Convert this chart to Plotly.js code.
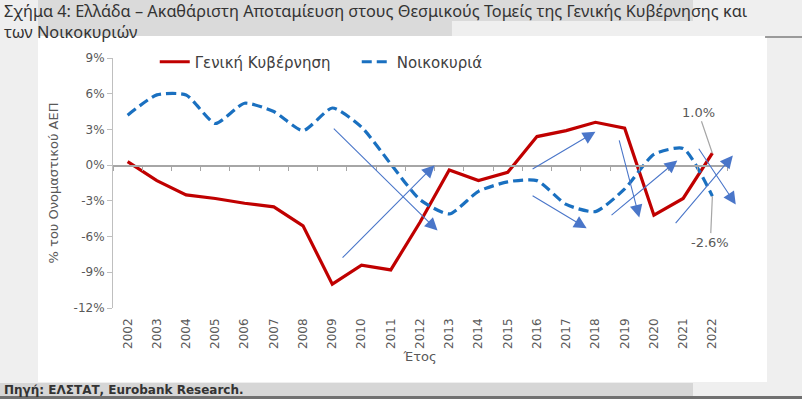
<!DOCTYPE html>
<html><head><meta charset="utf-8">
<script src="https://cdn.plot.ly/plotly-3.0.1.min.js"></script>
<style>html,body{margin:0;padding:0;background:#efefef;overflow:hidden}#chart{width:802px;height:399px}</style>
</head><body><div id="chart"></div>
<script>
// ---- data ----
const years = ['2002','2003','2004','2005','2006','2007','2008','2009','2010','2011','2012','2013','2014','2015','2016','2017','2018','2019','2020','2021','2022'];
const govSaving = [0.3,-1.3,-2.5,-2.8,-3.2,-3.5,-5.1,-10.0,-8.4,-8.8,-4.8,-0.4,-1.3,-0.6,2.4,2.9,3.6,3.1,-4.2,-2.8,1.0];
const hhSaving = [4.2,5.9,5.9,3.5,5.2,4.5,2.9,4.8,3.2,0.1,-2.9,-4.1,-2.2,-1.4,-1.3,-3.3,-3.9,-2.0,0.9,1.4,-2.6];
const seriesNames = ['Γενική Κυβέρνηση','Νοικοκυριά'];
const yTickVals = [-12,-9,-6,-3,0,3,6,9];
const yTickText = ['-12%','-9%','-6%','-3%','0%','3%','6%','9%'];
const yMin = -12, yMax = 9;
// trend arrows (year index / value): tail -> head
const arrowTailX = [7.0, 7.3, 13.8, 13.8, 16.8, 16.5, 18.7, 19.5];
const arrowTailY = [3.2, -7.9, -0.4, -2.5, 2.2, -4.3, -5.0, 1.5];
const arrowHeadX = [10.6, 10.5, 16.0, 15.7, 17.5, 18.8, 20.7, 20.8];
const arrowHeadY = [-5.5, 0.0, 2.8, -5.3, -4.4, 0.4, 0.8, -3.3];
const titleLines = ['Σχήμα 4: Ελλάδα – Ακαθάριστη Αποταμίευση στους Θεσμικούς Τομείς της Γενικής Κυβέρνησης και', 'των Νοικοκυριών'];
const sourceText = 'Πηγή: ΕΛΣΤΑΤ, Eurobank Research.';

const tickFont = {family:'DejaVu Sans', size:12, color:'#595959'};
const traces = [
  {x: years, y: govSaving, name: seriesNames[0], type:'scatter', mode:'lines',
   line:{color:'#c00000', width:3.2}, hoverinfo:'skip'},
  {x: years, y: hhSaving, name: seriesNames[1], type:'scatter', mode:'lines',
   line:{color:'#1a70c0', width:3.2, dash:'10px,5px', shape:'spline', smoothing:0.6}, hoverinfo:'skip'}
];

const annotations = [];
for (let i = 0; i < arrowTailX.length; i++) {
  annotations.push({xref:'x2', yref:'y', axref:'x2', ayref:'y',
    x: arrowHeadX[i], y: arrowHeadY[i], ax: arrowTailX[i], ay: arrowTailY[i],
    text:'', showarrow:true, arrowhead:2, arrowsize:2.3, arrowwidth:1.1, arrowcolor:'#4a76c9', standoff:0});
}
const last = years.length - 1;
annotations.push({xref:'x2', yref:'y', x:last, y:govSaving[last], ax:-14, ay:-41,
  text: govSaving[last].toFixed(1)+'%', showarrow:true, arrowhead:0, arrowwidth:1.2, arrowcolor:'#a6a6a6',
  font:{family:'DejaVu Sans', size:13, color:'#595959'}, standoff:0});
annotations.push({xref:'x2', yref:'y', x:last, y:hhSaving[last], ax:-2, ay:46,
  text: hhSaving[last].toFixed(1)+'%', showarrow:true, arrowhead:0, arrowwidth:1.2, arrowcolor:'#a6a6a6',
  font:{family:'DejaVu Sans', size:13, color:'#595959'}, standoff:0});
annotations.push({xref:'paper', yref:'paper', x:-0.1808, y:1.148, xanchor:'left', yanchor:'middle', align:'left',
  text: titleLines.join('<br>'), showarrow:false, font:{family:'Noto Sans', size:16.3, color:'#333333'}});
annotations.push({xref:'paper', yref:'paper', x:-0.1808, y:-0.327, xanchor:'left', yanchor:'middle',
  text: sourceText, showarrow:false, font:{family:'DejaVu Sans', size:12, color:'#333333', weight:'bold'}});

const shapes = [
  {type:'rect', xref:'paper', yref:'paper', x0:-0.1221, x1:1.0651, y0:-0.296, y1:1.088, fillcolor:'#ffffff', line:{width:0}, layer:'below'},
  {type:'rect', xref:'paper', yref:'paper', x0:-0.1221, x1:0.9446, y0:1.148, y1:1.24, fillcolor:'#dadada', line:{width:0}, layer:'below'},
  {type:'rect', xref:'paper', yref:'paper', x0:-0.1221, x1:0.552, y0:1.088, y1:1.148, fillcolor:'#dadada', line:{width:0}, layer:'below'},
  {type:'rect', xref:'paper', yref:'paper', x0:-0.19, x1:0.9446, y0:-0.352, y1:-0.3, fillcolor:'#d6d6d6', line:{width:0}, layer:'below'},
  {type:'rect', xref:'paper', yref:'paper', x0:-0.19, x1:1.125, y0:-0.37, y1:-0.352, fillcolor:'#707070', line:{width:0}, layer:'below'},
  {type:'rect', xref:'paper', yref:'paper', x0:1.062, x1:1.125, y0:1.08, y1:1.088, fillcolor:'#9a9a9a', line:{width:0}, layer:'below'}
];

const layout = {
  width:802, height:399,
  margin:{l:113, r:75, t:58, b:91, pad:0},
  paper_bgcolor:'rgba(0,0,0,0)', plot_bgcolor:'rgba(0,0,0,0)',
  showlegend:true,
  legend:{orientation:'h', x:0.068, xanchor:'left', y:0.984, yanchor:'middle', entrywidth:157,
    font:{family:'DejaVu Sans', size:15, color:'#404040'}, bgcolor:'rgba(0,0,0,0)', borderwidth:0},
  xaxis:{type:'category', categoryorder:'array', categoryarray:years, range:[-0.5, years.length-0.5],
    tickangle:-90, showline:false, ticks:'', showgrid:false, zeroline:false, ticklabelstandoff:7,
    tickfont:tickFont, title:{text:'Έτος', font:{family:'DejaVu Sans', size:13, color:'#595959'}, standoff:2}, fixedrange:true},
  xaxis2:{overlaying:'x', anchor:'free', position:(0-yMin)/(yMax-yMin), side:'bottom',
    range:[-0.5, years.length-0.5], tickmode:'linear', tick0:-0.5, dtick:1, ticks:'outside', ticklen:4,
    tickcolor:'#a6a6a6', showticklabels:false, showline:true, linecolor:'#a6a6a6', linewidth:1.5,
    showgrid:false, zeroline:false, fixedrange:true},
  yaxis:{range:[yMin, yMax], tickmode:'array', tickvals:yTickVals, ticktext:yTickText,
    showline:true, linecolor:'#bfbfbf', linewidth:1, ticks:'outside', ticklen:5, tickcolor:'#bfbfbf',
    showgrid:false, zeroline:false, tickfont:tickFont,
    title:{text:'% του Ονομαστικού ΑΕΠ', font:{family:'DejaVu Sans', size:13, color:'#595959'}, standoff:12}, fixedrange:true},
  annotations: annotations,
  shapes: shapes
};
Plotly.newPlot('chart', traces, layout, {displayModeBar:false, staticPlot:true});
</script></body></html>
